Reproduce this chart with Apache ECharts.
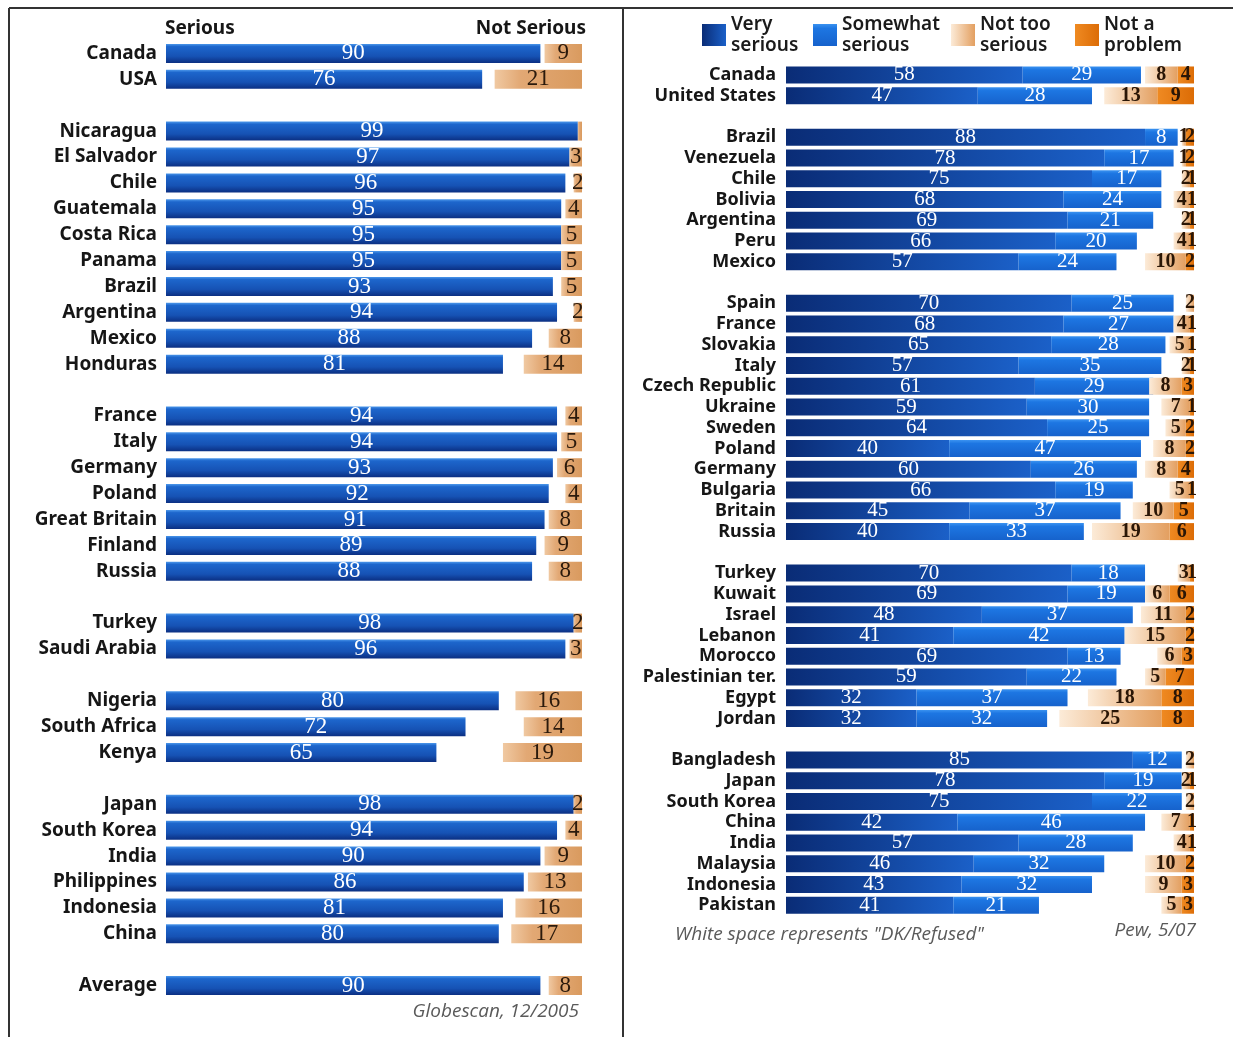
<!DOCTYPE html>
<html>
<head>
<meta charset="utf-8">
<script src="https://cdn.jsdelivr.net/npm/echarts@6/dist/echarts.min.js"></script>
<style>
html,body{margin:0;padding:0;background:#fff;}
#chart{width:1233px;height:1037px;}
</style>
</head>
<body>
<div id="chart"></div>
<script>
// ---------- Left panel (Globescan, 12/2005) ----------
const leftCountries = ['Canada','USA','','Nicaragua','El Salvador','Chile','Guatemala','Costa Rica','Panama','Brazil','Argentina','Mexico','Honduras','','France','Italy','Germany','Poland','Great Britain','Finland','Russia','','Turkey','Saudi Arabia','','Nigeria','South Africa','Kenya','','Japan','South Korea','India','Philippines','Indonesia','China','','Average'];
const serious    = [90,76,null,99,97,96,95,95,95,93,94,88,81,null,94,94,93,92,91,89,88,null,98,96,null,80,72,65,null,98,94,90,86,81,80,null,90];
const notSerious = [9,21,null,1,3,2,4,5,5,5,2,8,14,null,4,5,6,4,8,9,8,null,2,3,null,16,14,19,null,2,4,9,13,16,17,null,8];

// ---------- Right panel (Pew, 5/07) ----------
const rightCountries = ['Canada','United States','','Brazil','Venezuela','Chile','Bolivia','Argentina','Peru','Mexico','','Spain','France','Slovakia','Italy','Czech Republic','Ukraine','Sweden','Poland','Germany','Bulgaria','Britain','Russia','','Turkey','Kuwait','Israel','Lebanon','Morocco','Palestinian ter.','Egypt','Jordan','','Bangladesh','Japan','South Korea','China','India','Malaysia','Indonesia','Pakistan'];
const verySerious     = [58,47,null,88,78,75,68,69,66,57,null,70,68,65,57,61,59,64,40,60,66,45,40,null,70,69,48,41,69,59,32,32,null,85,78,75,42,57,46,43,41];
const somewhatSerious = [29,28,null,8,17,17,24,21,20,24,null,25,27,28,35,29,30,25,47,26,19,37,33,null,18,19,37,42,13,22,37,32,null,12,19,22,46,28,32,32,21];
const notTooSerious   = [8,13,null,1,1,2,4,2,4,10,null,2,4,5,2,8,7,5,8,8,5,10,19,null,3,6,11,15,6,5,18,25,null,2,2,2,7,4,10,9,5];
const notAProblem     = [4,9,null,2,2,1,1,1,1,2,null,0,1,1,1,3,1,2,2,4,1,5,6,null,1,6,2,2,3,7,8,8,null,0,1,0,1,1,2,3,3];

const NAME_FONT = 'Noto Sans';
const NUM_FONT = 'Liberation Serif';
const NOTE_FONT = 'Open Sans';

function lin(x, y, x2, y2, stops) {
  return new echarts.graphic.LinearGradient(x, y, x2, y2, stops.map((c) => ({offset: c[0], color: c[1]})));
}
const leftBlue = lin(0,0,0,1,[[0,'#4b97ea'],[0.14,'#1d66cc'],[0.65,'#1652b4'],[1,'#0b2f82']]);
const leftTan  = lin(0,0,1,0,[[0,'#f0c9a2'],[0.3,'#e2a874'],[1,'#d99a5e']]);
const veryCol  = lin(0,0,1,0,[[0,'#0a2c76'],[1,'#1b60c8']]);
const someCol  = lin(0,0,0,1,[[0,'#3a92f0'],[0.2,'#1d76e2'],[1,'#1662cc']]);
const ntsCol   = lin(0,0,1,0,[[0,'#fcebd8'],[1,'#e39f60']]);
const napCol   = lin(0,0,1,0,[[0,'#ef8a22'],[1,'#dc6c06']]);

const hideSmall = (min) => (p) => (p.value == null || p.value < min) ? '' : String(p.value);

const numLabelL = {show: true, position: 'inside', fontFamily: NUM_FONT, fontSize: 23, color: '#fff'};
const numLabelR = {show: true, position: 'inside', fontFamily: NUM_FONT, fontSize: 20, fontWeight: 'bold'};

const option = {
  animation: false,
  backgroundColor: '#ffffff',
  grid: [
    {left: 166, width: 416, top: 40.5, height: 958},
    {left: 786, width: 408, top: 64.6, height: 851}
  ],
  xAxis: [
    {gridIndex: 0, type: 'value', min: 0, max: 100, show: false},
    {gridIndex: 0, type: 'value', min: 0, max: 100, inverse: true, show: false},
    {gridIndex: 1, type: 'value', min: 0, max: 100, show: false},
    {gridIndex: 1, type: 'value', min: 0, max: 100, inverse: true, show: false}
  ],
  yAxis: [
    {gridIndex: 0, type: 'category', data: leftCountries, inverse: true,
     axisLine: {show: false}, axisTick: {show: false}, splitLine: {show: false},
     axisLabel: {margin: 9, fontFamily: NAME_FONT, fontWeight: 'bold', fontSize: 19, color: '#161616', interval: 0}},
    {gridIndex: 1, type: 'category', data: rightCountries, inverse: true,
     axisLine: {show: false}, axisTick: {show: false}, splitLine: {show: false},
     axisLabel: {margin: 10, fontFamily: NAME_FONT, fontWeight: 'bold', fontSize: 18, color: '#161616', interval: 0}}
  ],
  legend: [
    {data: ['Very serious'], left: 697, top: 9},
    {data: ['Somewhat serious'], left: 808, top: 9},
    {data: ['Not too serious'], left: 946, top: 9},
    {data: ['Not a problem'], left: 1070, top: 9}
  ].map(l => Object.assign(l, {
    itemWidth: 24, itemHeight: 22, icon: 'rect', selectedMode: false,
    formatter: n => n.replace(/ (?=[^ ]*$)/, '\n'),
    textStyle: {fontFamily: NAME_FONT, fontWeight: 600, fontSize: 19, lineHeight: 21, color: '#1a1a1a'}
  })),
  series: [
    {name: 'Serious', type: 'bar', xAxisIndex: 0, yAxisIndex: 0, data: serious,
     barWidth: 19, barGap: '-100%', itemStyle: {color: leftBlue},
     label: Object.assign({}, numLabelL, {formatter: hideSmall(1)})},
    {name: 'Not Serious', type: 'bar', xAxisIndex: 1, yAxisIndex: 0, data: notSerious,
     barWidth: 19, barGap: '-100%', itemStyle: {color: leftTan},
     label: Object.assign({}, numLabelL, {color: '#2b1a0c', formatter: hideSmall(2)})},

    {name: 'Very serious', type: 'bar', stack: 'serious', xAxisIndex: 2, yAxisIndex: 1, data: verySerious,
     barWidth: 17, barGap: '-100%', itemStyle: {color: veryCol},
     label: Object.assign({}, numLabelR, {color: '#fff', fontWeight: 'normal', fontSize: 21, formatter: hideSmall(1)})},
    {name: 'Somewhat serious', type: 'bar', stack: 'serious', xAxisIndex: 2, yAxisIndex: 1, data: somewhatSerious,
     barWidth: 17, barGap: '-100%', itemStyle: {color: someCol},
     label: Object.assign({}, numLabelR, {color: '#fff', fontWeight: 'normal', fontSize: 21, formatter: hideSmall(1)})},
    {name: 'Not a problem', type: 'bar', stack: 'notser', xAxisIndex: 3, yAxisIndex: 1, data: notAProblem,
     barWidth: 17, barGap: '-100%', itemStyle: {color: napCol},
     label: Object.assign({}, numLabelR, {color: '#2a1606', formatter: hideSmall(1)})},
    {name: 'Not too serious', type: 'bar', stack: 'notser', xAxisIndex: 3, yAxisIndex: 1, data: notTooSerious,
     barWidth: 17, barGap: '-100%', itemStyle: {color: ntsCol},
     label: Object.assign({}, numLabelR, {color: '#2a1606', formatter: hideSmall(1)})}
  ],
  graphic: [
    {type: 'line', shape: {x1: 9, y1: 8, x2: 1233, y2: 8}, style: {stroke: '#333', lineWidth: 2}},
    {type: 'line', shape: {x1: 9, y1: 8, x2: 9, y2: 1037}, style: {stroke: '#333', lineWidth: 2}},
    {type: 'line', shape: {x1: 623, y1: 8, x2: 623, y2: 1037}, style: {stroke: '#333', lineWidth: 2}},
    {type: 'text', left: 165, top: 19, style: {text: 'Serious', fontFamily: NAME_FONT, fontWeight: 'bold', fontSize: 19, fill: '#161616'}},
    {type: 'text', right: 1233 - 586, top: 19, style: {text: 'Not Serious', fontFamily: NAME_FONT, fontWeight: 'bold', fontSize: 19, fill: '#161616'}},
    {type: 'text', right: 1233 - 579, top: 1002, style: {text: 'Globescan, 12/2005', fontFamily: NOTE_FONT, fontStyle: 'italic', fontSize: 19, fill: '#5a5a5a'}},
    {type: 'text', left: 675, top: 925, style: {text: 'White space represents "DK/Refused"', fontFamily: NOTE_FONT, fontStyle: 'italic', fontSize: 19, fill: '#5a5a5a'}},
    {type: 'text', right: 1233 - 1196, top: 921, style: {text: 'Pew, 5/07', fontFamily: NOTE_FONT, fontStyle: 'italic', fontSize: 19, fill: '#5a5a5a'}}
  ]
};

const chart = echarts.init(document.getElementById('chart'), null, {renderer: 'canvas'});
chart.setOption(option);
</script>
</body>
</html>
